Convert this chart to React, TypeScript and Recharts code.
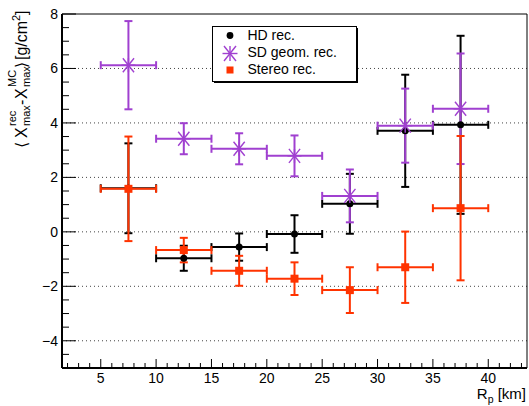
import React from 'react';
import { ScatterChart, Scatter, XAxis, YAxis, ErrorBar, ReferenceLine, Legend } from 'recharts';

// ---- data ----
const R_P = [7.5, 12.5, 17.5, 22.5, 27.5, 32.5, 37.5];
const R_P_HALF_BIN = [2.5, 2.5, 2.5, 2.5, 2.5, 2.5, 2.5];

const HD_MEAN = [1.6, -0.97, -0.56, -0.08, 1.03, 3.71, 3.93];
const HD_ERR = [1.65, 0.46, 0.5, 0.69, 1.1, 2.06, 3.27];

const SD_MEAN = [6.12, 3.42, 3.05, 2.79, 1.32, 3.9, 4.52];
const SD_ERR = [1.62, 0.57, 0.57, 0.75, 0.97, 1.36, 2.03];

const STEREO_MEAN = [1.58, -0.67, -1.43, -1.72, -2.14, -1.3, 0.87];
const STEREO_ERR = [1.92, 0.45, 0.55, 0.6, 0.84, 1.31, 2.65];

const SERIES_NAMES = ['HD rec.', 'SD geom. rec.', 'Stereo rec.'];

const X_MAJOR_TICKS = [5, 10, 15, 20, 25, 30, 35, 40];
const Y_MAJOR_TICKS = [-4, -2, 0, 2, 4, 6, 8];
const Y_GRID = [-4, -2, 0, 2, 4, 6];
const X_DOMAIN: [number, number] = [1.5, 43.5];
const Y_DOMAIN: [number, number] = [-5, 8];

const X_ALL_TICKS = Array.from({ length: 42 }, (_, i) => i + 2);
const Y_ALL_TICKS = Array.from({ length: 26 }, (_, i) => -4.5 + i * 0.5);

// ---- styling ----
const FONT = '"Liberation Sans", Arial, Helvetica, sans-serif';
const HD_COLOR = '#000000';
const SD_COLOR = '#a040d0';
const STEREO_COLOR = '#ff3300';

const W = 529;
const H = 406;
const PLOT_LEFT = 62;
const PLOT_BOTTOM = 368;

const toRows = (mean: number[], err: number[]) =>
  R_P.map((x, i) => ({ x, y: mean[i], ex: R_P_HALF_BIN[i], ey: err[i] }));

const HD_ROWS = toRows(HD_MEAN, HD_ERR);
const SD_ROWS = toRows(SD_MEAN, SD_ERR);
const STEREO_ROWS = toRows(STEREO_MEAN, STEREO_ERR);

const fmt = (v: number) => (v < 0 ? '\u2212' + Math.abs(v) : String(v));

const XTick = (props: any) => {
  const { x, payload } = props;
  const v = payload.value;
  const major = X_MAJOR_TICKS.includes(v);
  return (
    <g>
      <line x1={x} x2={x} y1={PLOT_BOTTOM} y2={PLOT_BOTTOM - (major ? 9 : 5)} stroke="#000" strokeWidth={1} />
      {major && (
        <text x={x} y={383} textAnchor="middle" fontSize={14} fontFamily={FONT} fill="#000">
          {fmt(v)}
        </text>
      )}
    </g>
  );
};

const YTick = (props: any) => {
  const { y, payload } = props;
  const v = payload.value;
  const major = Y_MAJOR_TICKS.includes(v);
  return (
    <g>
      <line x1={PLOT_LEFT} x2={PLOT_LEFT + (major ? 14 : 7)} y1={y} y2={y} stroke="#000" strokeWidth={1} />
      {major && (
        <text x={58} y={y + 5} textAnchor="end" fontSize={14} fontFamily={FONT} fill="#000">
          {fmt(v)}
        </text>
      )}
    </g>
  );
};

const Circle = (props: any) => <circle cx={props.cx} cy={props.cy} r={3.5} fill={HD_COLOR} />;
const Square = (props: any) => (
  <rect x={props.cx - 4} y={props.cy - 4} width={8} height={8} fill={STEREO_COLOR} />
);
const StarMark = ({ cx, cy, s = 7 }: any) => (
  <g stroke={SD_COLOR} strokeWidth={1.4}>
    <line x1={cx - s} y1={cy} x2={cx + s} y2={cy} />
    <line x1={cx} y1={cy - s} x2={cx} y2={cy + s} />
    <line x1={cx - s * 0.8} y1={cy - s} x2={cx + s * 0.8} y2={cy + s} />
    <line x1={cx - s * 0.8} y1={cy + s} x2={cx + s * 0.8} y2={cy - s} />
  </g>
);
const Star = (props: any) => <StarMark cx={props.cx} cy={props.cy} s={7} />;

const YTitle = () => (
  <g transform="translate(27,148) rotate(-90)">
    <text fontSize={16} fontFamily={FONT} fill="#000">
      <tspan x={0} y={0}>{'\u27E8'}</tspan>
      <tspan x={10} y={0}>X</tspan>
      <tspan x={22} y={-11} fontSize={11}>rec</tspan>
      <tspan x={22} y={3} fontSize={11}>max</tspan>
      <tspan x={43} y={0}>-</tspan>
      <tspan x={49} y={0}>X</tspan>
      <tspan x={61} y={-11} fontSize={11}>MC</tspan>
      <tspan x={61} y={3} fontSize={11}>max</tspan>
      <tspan x={80} y={0}>{'\u27E9'}</tspan>
      <tspan x={88} y={0}>[g/cm</tspan>
      <tspan x={127} y={-7} fontSize={11}>2</tspan>
      <tspan x={133} y={0}>]</tspan>
    </text>
  </g>
);

const XTitle = () => (
  <text x={526} y={399} textAnchor="end" fontSize={15} fontFamily={FONT} fill="#000">
    R<tspan fontSize={10.5} dy={4}>p</tspan>
    <tspan dy={-4}>{'\u00a0[km]'}</tspan>
  </text>
);

const LegendBox = () => {
  const rows = [
    { name: SERIES_NAMES[0], mark: <circle cx={18} cy={9.5} r={3.4} fill={HD_COLOR} /> },
    { name: SERIES_NAMES[1], mark: <StarMark cx={18} cy={27.5} s={7.5} /> },
    { name: SERIES_NAMES[2], mark: <rect x={14.5} y={40.5} width={7} height={7} fill={STEREO_COLOR} /> },
  ];
  return (
    <svg width={148} height={60} style={{ display: 'block' }}>
      <rect x={2} y={2} width={144} height={55} fill="#000" />
      <rect x={0.5} y={0.5} width={144} height={55} fill="#fff" stroke="#000" strokeWidth={1} />
      {rows.map((r, i) => (
        <g key={r.name}>
          {r.mark}
          <text x={35.5} y={14 + i * 17.2} fontSize={14} fontFamily={FONT} fill="#000">
            {r.name}
          </text>
        </g>
      ))}
    </svg>
  );
};

export default function App() {
  return (
    <div style={{ position: 'absolute', left: 0, top: 0, width: W, height: H, background: '#fff' }}>
      <ScatterChart width={W} height={H} margin={{ top: 14, right: 2, bottom: 0, left: 0 }}>
        <XAxis
          type="number"
          dataKey="x"
          domain={X_DOMAIN}
          ticks={X_ALL_TICKS}
          interval={0}
          allowDataOverflow
          height={38}
          tickLine={false}
          axisLine={{ stroke: '#000', strokeWidth: 2 }}
          tick={<XTick />}
          label={<XTitle />}
        />
        <YAxis
          type="number"
          dataKey="y"
          domain={Y_DOMAIN}
          ticks={Y_ALL_TICKS}
          interval={0}
          allowDataOverflow
          width={62}
          tickLine={false}
          axisLine={{ stroke: '#000', strokeWidth: 2 }}
          tick={<YTick />}
          label={<YTitle />}
        />
        {Y_GRID.map((v) => (
          <ReferenceLine key={v} y={v} stroke="#444" strokeDasharray="1 3" strokeWidth={1} />
        ))}
        <ReferenceLine y={8} stroke="#000" strokeWidth={1} />
        <ReferenceLine x={43.5} stroke="#000" strokeWidth={1} />
        <Scatter name={SERIES_NAMES[0]} data={HD_ROWS} shape={<Circle />} isAnimationActive={false}>
          <ErrorBar dataKey="ex" direction="x" width={4} stroke={HD_COLOR} strokeWidth={2} isAnimationActive={false} />
          <ErrorBar dataKey="ey" direction="y" width={4} stroke={HD_COLOR} strokeWidth={2} isAnimationActive={false} />
        </Scatter>
        <Scatter name={SERIES_NAMES[1]} data={SD_ROWS} shape={<Star />} isAnimationActive={false}>
          <ErrorBar dataKey="ex" direction="x" width={4} stroke={SD_COLOR} strokeWidth={2} isAnimationActive={false} />
          <ErrorBar dataKey="ey" direction="y" width={4} stroke={SD_COLOR} strokeWidth={2} isAnimationActive={false} />
        </Scatter>
        <Scatter name={SERIES_NAMES[2]} data={STEREO_ROWS} shape={<Square />} isAnimationActive={false}>
          <ErrorBar dataKey="ex" direction="x" width={4} stroke={STEREO_COLOR} strokeWidth={2} isAnimationActive={false} />
          <ErrorBar dataKey="ey" direction="y" width={4} stroke={STEREO_COLOR} strokeWidth={2} isAnimationActive={false} />
        </Scatter>
        <Legend
          layout="vertical"
          align="center"
          verticalAlign="middle"
          wrapperStyle={{ left: 212, top: 26, width: 148, height: 60 }}
          content={() => <LegendBox />}
        />
      </ScatterChart>
    </div>
  );
}
